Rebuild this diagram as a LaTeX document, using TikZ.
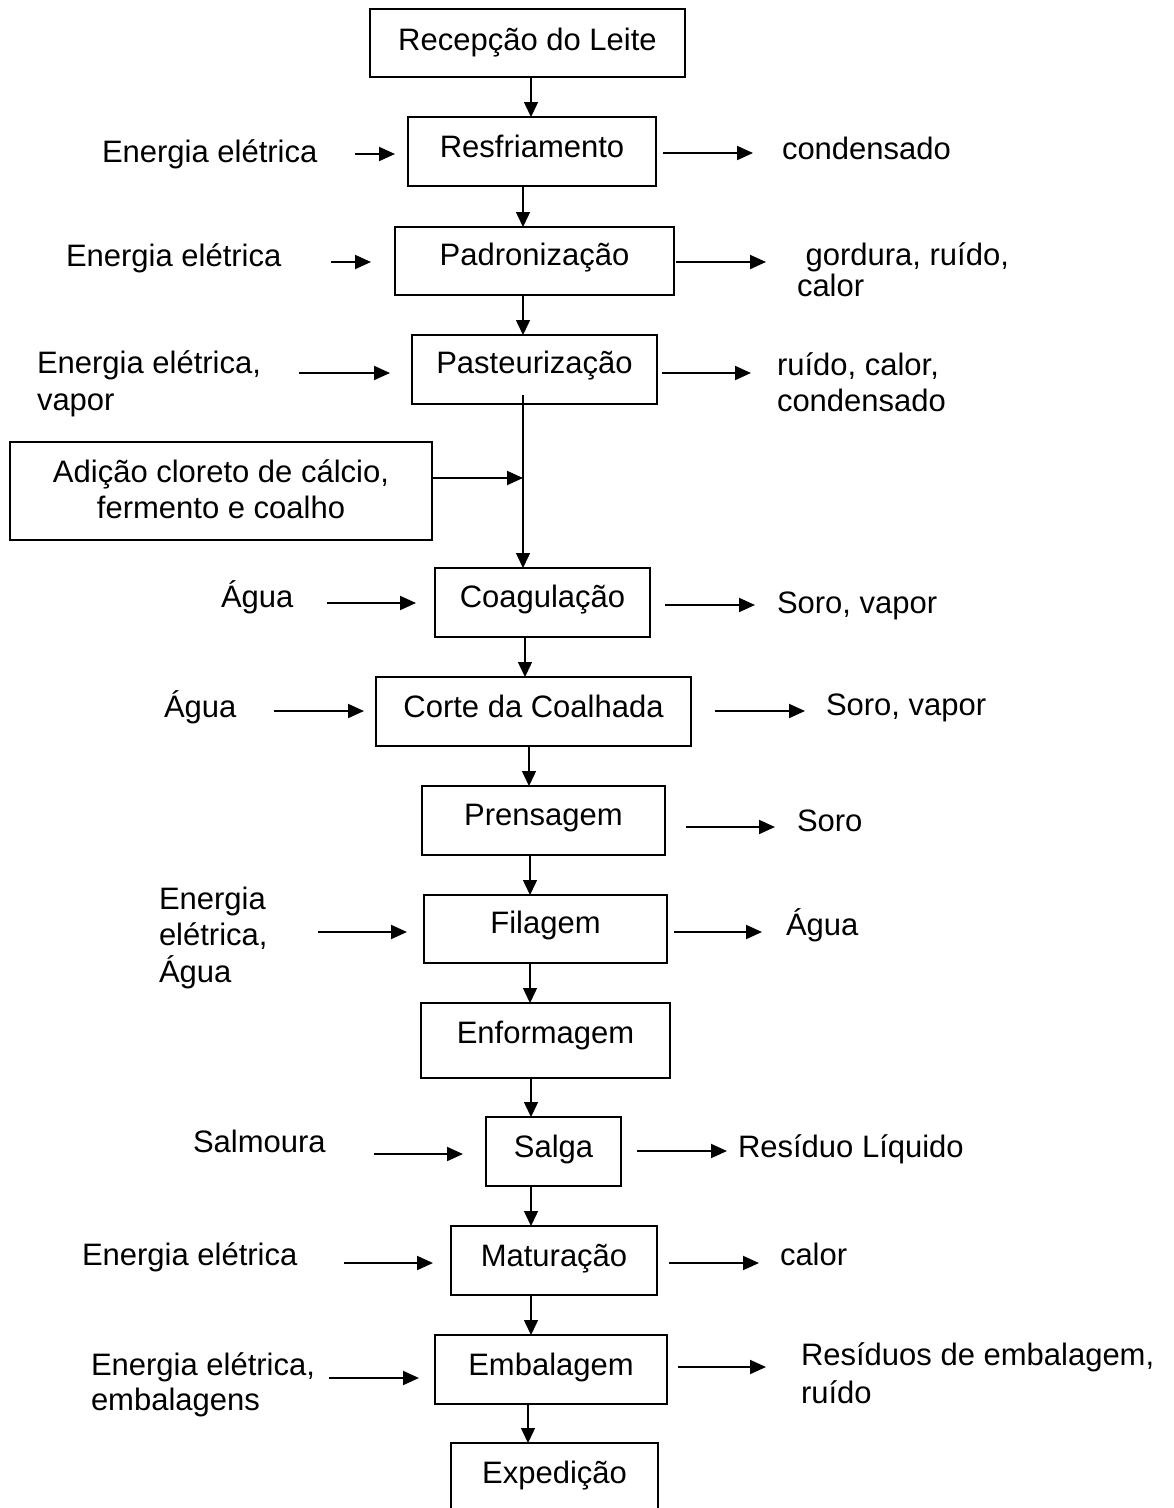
\documentclass[tikz,border=0pt]{standalone}
\usepackage{fontspec}
\setmainfont{Liberation Sans}
\usetikzlibrary{arrows.meta}
% stacked text lines with a fixed baseline distance (left / centred)
\newcommand\linesL[2]{\vtop{\baselineskip=#1\relax\halign{##\hfil\cr#2\crcr}}}
\newcommand\linesC[2]{\vtop{\baselineskip=#1\relax\halign{\hfil##\hfil\cr#2\crcr}}}
\begin{document}
\begin{tikzpicture}[x=1pt,y=-1pt,
  every node/.style={font=\fontsize{31}{36}\selectfont},
  box/.style={draw, line width=2.1pt, rectangle, inner sep=0pt, outer sep=0pt,
              anchor=north west, text height=40pt},
  lbl/.style={inner sep=0pt, outer sep=0pt, anchor=base west},
  flow/.style={line width=2pt, -{Triangle[length=16pt,width=14pt]}},
  vflow/.style={line width=1.4pt, -{Triangle[length=15pt,width=14pt]}}]

\useasboundingbox (0,0) rectangle (1174,1508);
\fill[white] (0,0) rectangle (1174,1508);
\clip (0,0) rectangle (1174,1508);

% process steps
\node[box, minimum width=315pt, text height=41pt, text depth=27pt] (b1) at (370,9) {Recepção do Leite};
\node[box, minimum width=248pt, text depth=29pt] (b2) at (408,117) {Resfriamento};
\node[box, minimum width=279pt, text height=38pt, text depth=30pt] (b3) at (395,227) {Padronização};
\node[box, minimum width=245pt, text height=38pt, text depth=31pt] (b4) at (412,335) {Pasteurização};
\node[box, minimum width=422pt, text depth=58pt] (b5) at (10,442)
  {\linesC{36pt}{Adição cloreto de cálcio,\cr fermento e coalho}};
\node[box, minimum width=215pt, text height=39pt, text depth=30pt] (b6) at (435,568) {Coagulação};
\node[box, minimum width=315pt, text depth=29pt] (b7) at (376,677) {Corte da Coalhada};
\node[box, minimum width=243pt, text height=39pt, text depth=30pt] (b8) at (422,786) {Prensagem};
\node[box, minimum width=243pt, text height=38pt, text depth=30pt] (b9) at (424,895) {Filagem};
\node[box, minimum width=249pt, text depth=35pt] (b10) at (421,1003) {Enformagem};
\node[box, minimum width=135pt, text depth=29pt] (b11) at (486,1117) {Salga};
\node[box, minimum width=206pt, text depth=29pt] (b12) at (451,1226) {Maturação};
\node[box, minimum width=232pt, text depth=29pt] (b13) at (435,1335) {Embalagem};
\node[box, minimum width=207pt, text depth=30pt] (b14) at (451,1443) {Expedição};

% main flow
\draw[vflow] (b1.south -| 531,0) -- (b2.north -| 531,0);
\draw[vflow] (b2.south -| 523,0) -- (b3.north -| 523,0);
\draw[vflow] (b3.south -| 523,0) -- (b4.north -| 523,0);
\coordinate (p4) at (523,395);
\draw[vflow] (p4) -- (p4 |- b6.north);
\draw[vflow] (b6.south -| 525,0) -- (b7.north -| 525,0);
\draw[vflow] (b7.south -| 529,0) -- (b8.north -| 529,0);
\draw[vflow] (b8.south -| 530,0) -- (b9.north -| 530,0);
\draw[vflow] (b9.south -| 530,0) -- (b10.north -| 530,0);
\draw[vflow] (b10.south -| 531,0) -- (b11.north -| 531,0);
\draw[vflow] (b11.south -| 531,0) -- (b12.north -| 531,0);
\draw[vflow] (b12.south -| 531,0) -- (b13.north -| 531,0);
\draw[vflow] (b13.south -| 528,0) -- (b14.north -| 528,0);

% additives joining the flow
\coordinate (join) at (523,478);
\draw[flow] (b5.east |- join) -- (join);

% inputs (left) and outputs (right)
\node[lbl] (l2) at (102,162) {Energia elétrica};
\coordinate (i2) at (355,154);
\draw[flow, shorten >=13pt] (i2) -- (i2 -| b2.west);
\node[lbl] (r2) at (782,159) {condensado};
\coordinate (o2) at (753,153);
\draw[flow, shorten <=7pt] (o2 -| b2.east) -- (o2);

\node[lbl] (l3) at (66,266) {Energia elétrica};
\coordinate (i3) at (331,262);
\draw[flow, shorten >=24pt] (i3) -- (i3 -| b3.west);
\node[lbl] (r3) at (797,265) {\linesL{31pt}{\ gordura, ruído,\cr calor}};
\coordinate (o3) at (766,262);
\draw[flow, shorten <=2pt] (o3 -| b3.east) -- (o3);

\node[lbl] (l4) at (37,373) {\linesL{37pt}{Energia elétrica,\cr vapor}};
\coordinate (i4) at (299,373);
\draw[flow, shorten >=22pt] (i4) -- (i4 -| b4.west);
\node[lbl] (r4) at (777,375) {\linesL{36pt}{ruído, calor,\cr condensado}};
\coordinate (o4) at (751,373);
\draw[flow, shorten <=5pt] (o4 -| b4.east) -- (o4);

\node[lbl] (l6) at (221,607) {Água};
\coordinate (i6) at (327,603);
\draw[flow, shorten >=19pt] (i6) -- (i6 -| b6.west);
\node[lbl] (r6) at (777,613) {Soro, vapor};
\coordinate (o6) at (755,605);
\draw[flow, shorten <=15pt] (o6 -| b6.east) -- (o6);

\node[lbl] (l7) at (164,717) {Água};
\coordinate (i7) at (274,711);
\draw[flow, shorten >=12pt] (i7) -- (i7 -| b7.west);
\node[lbl] (r7) at (826,715) {Soro, vapor};
\coordinate (o7) at (805,711);
\draw[flow, shorten <=24pt] (o7 -| b7.east) -- (o7);

\node[lbl] (r8) at (797,831) {Soro};
\coordinate (o8) at (775,827);
\draw[flow, shorten <=21pt] (o8 -| b8.east) -- (o8);

\node[lbl] (l9) at (159,909) {\linesL{36.5pt}{Energia\cr elétrica,\cr Água}};
\coordinate (i9) at (318,932);
\draw[flow, shorten >=17pt] (i9) -- (i9 -| b9.west);
\node[lbl] (r9) at (786,935) {Água};
\coordinate (o9) at (762,932);
\draw[flow, shorten <=7pt] (o9 -| b9.east) -- (o9);

\node[lbl] (l11) at (193,1152) {Salmoura};
\coordinate (i11) at (374,1154);
\draw[flow, shorten >=23pt] (i11) -- (i11 -| b11.west);
\node[lbl] (r11) at (738,1157) {Resíduo Líquido};
\coordinate (o11) at (727,1151);
\draw[flow, shorten <=16pt] (o11 -| b11.east) -- (o11);

\node[lbl] (l12) at (82,1265) {Energia elétrica};
\coordinate (i12) at (344,1263);
\draw[flow, shorten >=18pt] (i12) -- (i12 -| b12.west);
\node[lbl] (r12) at (780,1265) {calor};
\coordinate (o12) at (759,1263);
\draw[flow, shorten <=12pt] (o12 -| b12.east) -- (o12);

\node[lbl] (l13) at (91,1375) {\linesL{35pt}{Energia elétrica,\cr embalagens}};
\coordinate (i13) at (329,1378);
\draw[flow, shorten >=16pt] (i13) -- (i13 -| b13.west);
\node[lbl] (r13) at (801,1365) {\linesL{38pt}{Resíduos de embalagem,\cr ruído}};
\coordinate (o13) at (766,1367);
\draw[flow, shorten <=11pt] (o13 -| b13.east) -- (o13);

\end{tikzpicture}
\end{document}
